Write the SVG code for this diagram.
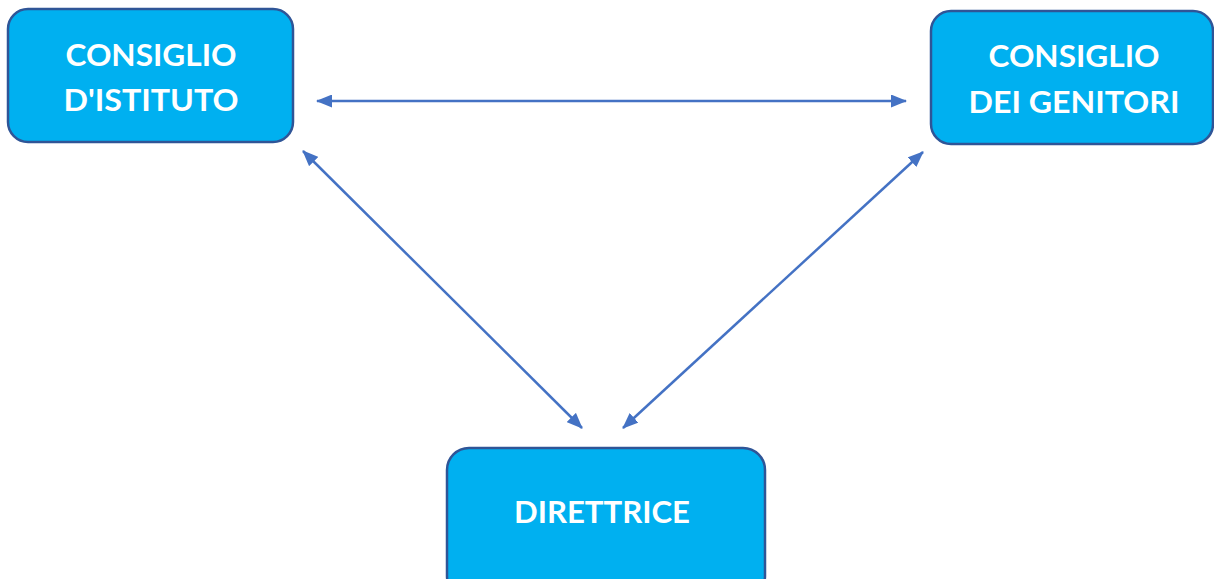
<svg xmlns="http://www.w3.org/2000/svg" width="1214" height="579" viewBox="0 0 1214 579">
<defs>
<style>
.box{fill:#00B0F0;stroke:#2F5597;stroke-width:2.5}
.lbl{font-family:Lato,"Open Sans","Liberation Sans",sans-serif;font-weight:bold;font-size:31px;fill:#ffffff;text-anchor:middle}
.con{stroke:#4472C4;stroke-width:2.5;fill:none}
</style>
<marker id="ah" viewBox="0 0 16 13" refX="15" refY="6.5" markerWidth="16" markerHeight="13" orient="auto-start-reverse" markerUnits="userSpaceOnUse">
<path d="M0,0 L16,6.5 L0,13 z" fill="#4472C4"/>
</marker>
</defs>
<rect width="1214" height="579" fill="#ffffff"/>
<g id="consiglio-istituto">
<rect class="box" x="8" y="9" width="285" height="133" rx="20"/>
<text class="lbl" x="151" y="66" textLength="171" lengthAdjust="spacingAndGlyphs">CONSIGLIO</text>
<text class="lbl" x="151" y="111" textLength="175" lengthAdjust="spacingAndGlyphs">D'ISTITUTO</text>
</g>
<g id="consiglio-genitori">
<rect class="box" x="931" y="11" width="282" height="133" rx="20"/>
<text class="lbl" x="1074" y="67" textLength="171" lengthAdjust="spacingAndGlyphs">CONSIGLIO</text>
<text class="lbl" x="1074" y="113" textLength="211" lengthAdjust="spacingAndGlyphs">DEI GENITORI</text>
</g>
<g id="direttrice">
<rect class="box" x="447" y="448" width="318" height="150" rx="22"/>
<text class="lbl" x="602" y="523" textLength="176" lengthAdjust="spacingAndGlyphs">DIRETTRICE</text>
</g>
<g id="connectors">
<line class="con" x1="317" y1="101" x2="906" y2="101" marker-start="url(#ah)" marker-end="url(#ah)"/>
<line class="con" x1="303" y1="151" x2="582" y2="428" marker-start="url(#ah)" marker-end="url(#ah)"/>
<line class="con" x1="923" y1="152" x2="623" y2="428" marker-start="url(#ah)" marker-end="url(#ah)"/>
</g>
</svg>
